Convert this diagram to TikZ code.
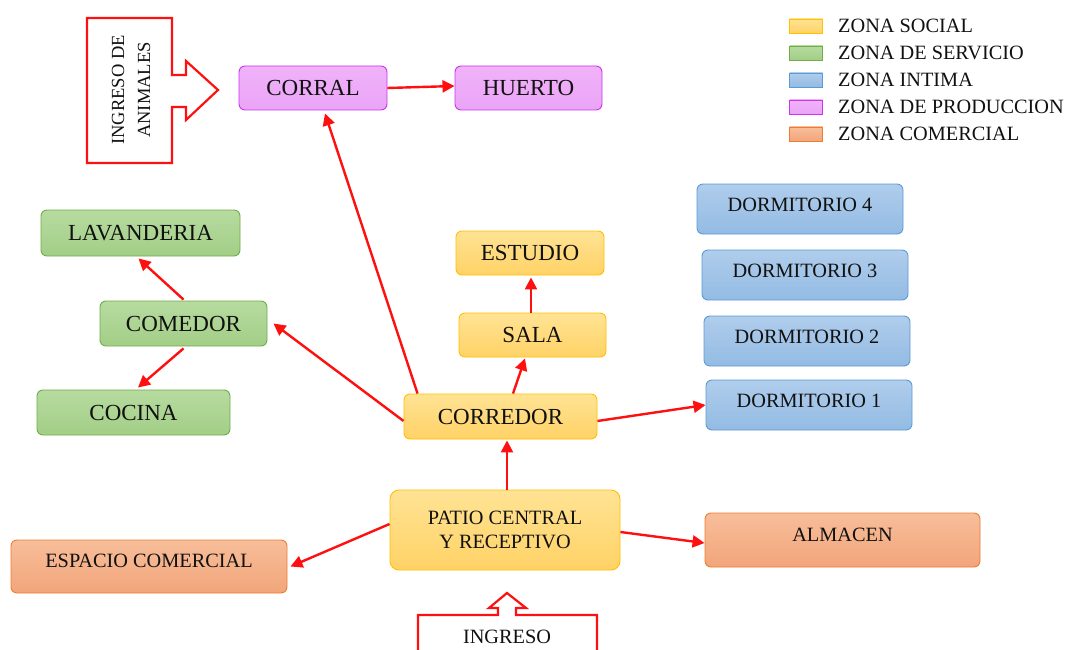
\documentclass[tikz,border=0pt]{standalone}
\usepackage{fontspec}
\setmainfont{Liberation Serif}
\usetikzlibrary{arrows.meta,calc}
\definecolor{txt}{HTML}{111111}
\definecolor{socT}{HTML}{FFE394}
\definecolor{socD}{HTML}{FFD266}
\definecolor{socB}{HTML}{FFC000}
\definecolor{serT}{HTML}{B7DBA0}
\definecolor{serD}{HTML}{A2CE86}
\definecolor{serB}{HTML}{70AD47}
\definecolor{intT}{HTML}{B0CDEC}
\definecolor{intD}{HTML}{93BBE3}
\definecolor{intB}{HTML}{5B9BD5}
\definecolor{proT}{HTML}{F0B2F9}
\definecolor{proD}{HTML}{EBA4F7}
\definecolor{proB}{HTML}{CC33EE}
\definecolor{comT}{HTML}{F7BE9A}
\definecolor{comD}{HTML}{F2A57A}
\definecolor{comB}{HTML}{ED7D31}
\definecolor{arr}{HTML}{FF1010}
\newcommand{\bigf}{\fontsize{23}{25}\selectfont}
\newcommand{\smallf}{\fontsize{20.3}{24}\selectfont}
\tikzset{
  box/.style={rounded corners=6pt, inner sep=0pt, text=txt, font=\bigf, line width=0.9pt, align=center},
  soc/.style={box, draw=socB, top color=socT, bottom color=socD},
  ser/.style={box, draw=serB, top color=serT, bottom color=serD},
  inti/.style={box, draw=intB, top color=intT, bottom color=intD, font=\smallf, text depth=9pt},
  pro/.style={box, draw=proB, top color=proT, bottom color=proD},
  com/.style={box, draw=comB, top color=comT, bottom color=comD},
  sw/.style={minimum width=33pt, minimum height=14pt, inner sep=0pt, line width=0.8pt},
  legtxt/.style={anchor=west, inner sep=0pt, text=txt, font=\smallf},
  link/.style={draw=arr, line width=2.4pt, -{Triangle[length=12pt,width=12pt]}},
  blockarrow/.style={draw=arr, line width=2.2pt, fill=white}
}
\begin{document}
\begin{tikzpicture}[x=1pt,y=-1pt]
\useasboundingbox (0,0) rectangle (1065,650);
\fill[white] (0,0) rectangle (1065,650);

% block arrows
\draw[blockarrow] (87,18) -- (172,18) -- (172,75) -- (186,75) -- (186,61) -- (218,90) -- (186,120) -- (186,107) -- (172,107) -- (172,163) -- (87,163) -- cycle;
\node[rotate=90, align=center, text=txt, font=\fontsize{18.5}{26}\selectfont, inner sep=0pt] (animales) at (131,90) {INGRESO DE\\ANIMALES};
\draw[blockarrow] (418,660) -- (418,615) -- (498,615) -- (498,608) -- (489,608) -- (507,593) -- (526,608) -- (516,608) -- (516,615) -- (597,615) -- (597,660);
\node[text=txt, font=\smallf, inner sep=0pt] (ingreso) at (507,637) {INGRESO};

% production
\node[pro, minimum width=148pt, minimum height=44pt] (corral) at (313,88) {CORRAL};
\node[pro, minimum width=147pt, minimum height=44pt] (huerto) at (528.5,88) {HUERTO};
% service
\node[ser, minimum width=199pt, minimum height=46pt] (lavanderia) at (140.5,233) {LAVANDERIA};
\node[ser, minimum width=167pt, minimum height=45pt] (comedor) at (183.5,323.5) {COMEDOR};
\node[ser, minimum width=193pt, minimum height=45pt] (cocina) at (133.5,412.5) {COCINA};
% social
\node[soc, minimum width=148pt, minimum height=44pt] (estudio) at (530,253) {ESTUDIO};
\node[soc, minimum width=147pt, minimum height=44pt] (sala) at (532.5,335) {SALA};
\node[soc, minimum width=193pt, minimum height=45pt] (corredor) at (500.5,416.5) {CORREDOR};
\node[soc, minimum width=230pt, minimum height=80pt, font=\smallf, rounded corners=9pt] (patio) at (505,530) {PATIO CENTRAL\\Y RECEPTIVO};
% intima
\node[inti, minimum width=206pt, minimum height=50pt] (dorm4) at (800,209) {DORMITORIO 4};
\node[inti, minimum width=206pt, minimum height=50pt] (dorm3) at (805,275) {DORMITORIO 3};
\node[inti, minimum width=206pt, minimum height=50pt] (dorm2) at (807,341) {DORMITORIO 2};
\node[inti, minimum width=206pt, minimum height=50pt] (dorm1) at (809,405) {DORMITORIO 1};
% commercial
\node[com, minimum width=276pt, minimum height=53pt, font=\smallf, text depth=12pt] (comercial) at (149,566.5) {ESPACIO COMERCIAL};
\node[com, minimum width=275pt, minimum height=54pt, font=\smallf, text depth=10pt] (almacen) at (842.5,540) {ALMACEN};

% connectors
\draw[link] (corral.east) -- ($(huerto.west)+(0,-2)$);
\draw[link] ($(corredor.north west)+(14,0)$) -- ($(corral.south)+(12,3)$);
\draw[link] ($(corredor.west)+(0,4.5)$) -- ($(comedor.east)+(6,0)$);
\draw[link] ($(comedor.north)+(0,-1)$) -- ($(lavanderia.south)+(-2,2)$);
\draw[link] ($(comedor.south)+(0,2)$) -- ($(cocina.north)+(4.5,-2)$);
\draw[link] ($(sala.north)+(-1.5,0)$) -- ($(estudio.south)+(1,2)$);
\draw[link] ($(corredor.north)+(12.5,0)$) -- ($(sala.south)+(-7.5,1)$);
\draw[link] ($(corredor.east)+(0,4.5)$) -- (dorm1.west);
\draw[link] ($(patio.north)+(2,0)$) -- ($(corredor.south)+(6.5,1)$);
\draw[link] ($(patio.west)+(0,-6)$) -- ($(comercial.east)+(3,0)$);
\draw[link] ($(patio.east)+(0,2)$) -- ($(almacen.west)+(0,3)$);

% legend
\node[sw, draw=socB, top color=socT, bottom color=socD] (l1) at (806,26) {};
\node[sw, draw=serB, top color=serT, bottom color=serD] (l2) at (806,53) {};
\node[sw, draw=intB, top color=intT, bottom color=intD] (l3) at (806,80) {};
\node[sw, draw=proB, top color=proT, bottom color=proD] (l4) at (806,107) {};
\node[sw, draw=comB, top color=comT, bottom color=comD] (l5) at (806,134) {};
\node[legtxt] (t1) at (838,26) {ZONA SOCIAL};
\node[legtxt] (t2) at (838,53) {ZONA DE SERVICIO};
\node[legtxt] (t3) at (838,80) {ZONA INTIMA};
\node[legtxt] (t4) at (838,107) {ZONA DE PRODUCCION};
\node[legtxt] (t5) at (838,134) {ZONA COMERCIAL};
\end{tikzpicture}
\end{document}
